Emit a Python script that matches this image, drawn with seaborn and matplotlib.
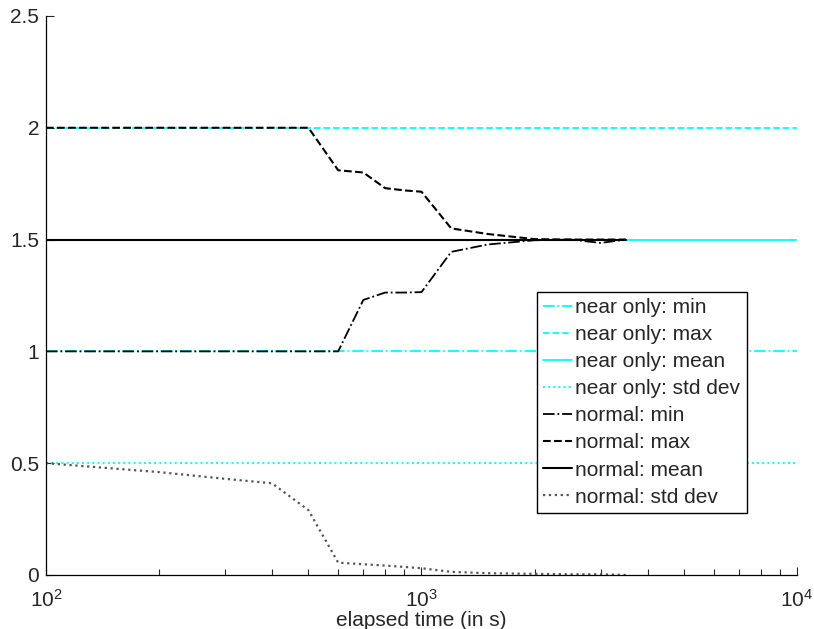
import numpy as np
import pandas as pd
import matplotlib
matplotlib.use("Agg")
import matplotlib.pyplot as plt
import seaborn as sns
from matplotlib.ticker import LogLocator, FixedLocator, FuncFormatter

# elapsed time samples (s)
t_normal = [100, 200, 300, 400, 500, 600, 700, 800, 900, 1000,
            1200, 1500, 2000, 2500, 3000, 3500]
t_near = [100, 10000]

# "near only" runs: statistics stay constant
near_min = [1.0, 1.0]
near_max = [2.0, 2.0]
near_mean = [1.5, 1.5]
near_std = [0.5, 0.5]

# "normal" runs
normal_min = [1.0, 1.0, 1.0, 1.0, 1.0, 1.0, 1.23, 1.263, 1.263, 1.265,
              1.445, 1.478, 1.497, 1.5, 1.485, 1.5]
normal_max = [2.0, 2.0, 2.0, 2.0, 2.0, 1.81, 1.80, 1.73, 1.72, 1.714,
              1.55, 1.525, 1.502, 1.5, 1.5, 1.5]
normal_mean = [1.5] * 16
normal_std = [0.5, 0.46, 0.43, 0.41, 0.29, 0.055, 0.048, 0.042, 0.036, 0.03,
              0.014, 0.008, 0.005, 0.003, 0.003, 0.0]

sns.set_style("ticks")
plt.rcParams["font.family"] = ["Liberation Sans", "DejaVu Sans"]
plt.rcParams["font.size"] = 15
plt.rcParams["mathtext.fontset"] = "custom"
plt.rcParams["mathtext.rm"] = "Liberation Sans"
plt.rcParams["mathtext.it"] = "Liberation Sans:italic"
plt.rcParams["mathtext.bf"] = "Liberation Sans:bold"

fig = plt.figure(figsize=(8.14, 6.29), dpi=100)
ax = fig.add_axes([0.0565, 0.0859, 0.9226, 0.8887])

CYAN = "#00FFFF"
series = [
    ("near only: min", t_near, near_min, CYAN, "-.", 1.3),
    ("near only: max", t_near, near_max, CYAN, "--", 1.3),
    ("near only: mean", t_near, near_mean, CYAN, "-", 1.3),
    ("near only: std dev", t_near, near_std, CYAN, ":", 1.4),
    ("normal: min", t_normal, normal_min, "black", "-.", 1.3),
    ("normal: max", t_normal, normal_max, "black", "--", 1.5),
    ("normal: mean", t_normal, normal_mean, "black", "-", 1.5),
    ("normal: std dev", t_normal, normal_std, "#555555", ":", 1.6),
]

for label, t, y, color, ls, lw in series:
    df = pd.DataFrame({"t": t, "v": y})
    sns.lineplot(data=df, x="t", y="v", ax=ax, color=color, linestyle=ls,
                 linewidth=lw, label=label, estimator=None, sort=False)

ax.set_xscale("log")
ax.set_xlim(100, 10000)
ax.set_ylim(0, 2.5)
ax.yaxis.set_major_locator(FixedLocator([0, 0.5, 1, 1.5, 2, 2.5]))
ax.yaxis.set_major_formatter(FuncFormatter(lambda v, p: f"{v:g}"))
ax.xaxis.set_major_locator(LogLocator(base=10))
ax.xaxis.set_minor_locator(LogLocator(base=10, subs=np.arange(2, 10)))

ax.set_xlabel("elapsed time (in s)", labelpad=0, fontsize=15)
ax.set_ylabel("")

for s in ("top", "right"):
    ax.spines[s].set_visible(False)
for s in ("left", "bottom"):
    ax.spines[s].set_linewidth(0.9)
    ax.spines[s].set_color("black")

ax.tick_params(axis="both", which="major", direction="in", length=6,
               width=0.8, labelsize=15)
ax.tick_params(axis="y", which="major", pad=5)
ax.tick_params(axis="x", which="major", pad=10)
ax.tick_params(axis="x", which="minor", direction="in", length=4, width=0.8)

leg = ax.legend(loc="lower right", bbox_to_anchor=(0.933, 0.111),
                frameon=True, fancybox=False, framealpha=1,
                edgecolor="black", handlelength=1.4, handletextpad=0.15,
                labelspacing=0.39, borderpad=0.3, borderaxespad=0,
                fontsize=15)
leg.get_frame().set_linewidth(1.0)

fig.savefig("out.png", dpi=100)
